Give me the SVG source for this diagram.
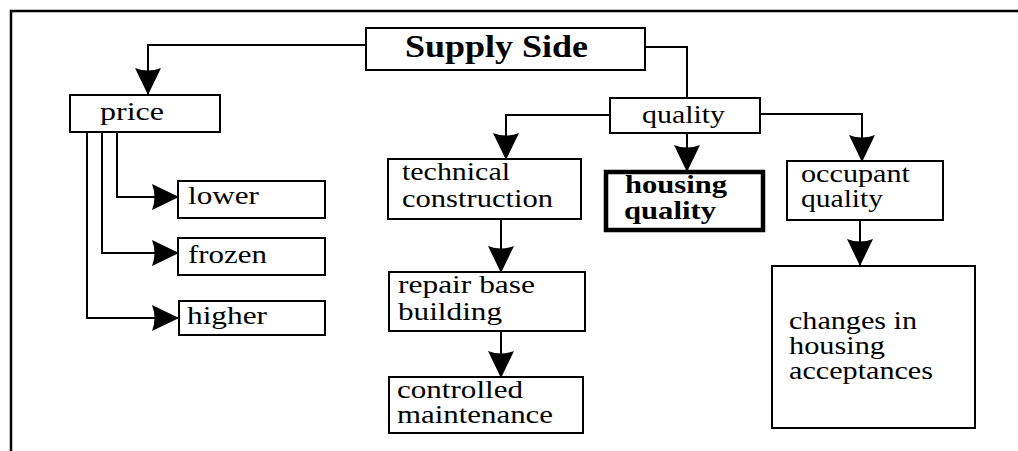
<svg xmlns="http://www.w3.org/2000/svg" width="1018" height="451" viewBox="0 0 1018 451">
  <style>
    .box { fill: #fff; stroke: #000; stroke-width: 2; }
    .thick { stroke-width: 4.5; }
    .lbl { font-family: "Liberation Serif", "Times New Roman", serif; font-size: 25px; fill: #000; }
    .bold { font-weight: bold; }
    .title { font-size: 31px; }
    .wire { fill: none; stroke: #000; stroke-width: 2; }
  </style>
  <defs>
    <marker id="arrow" viewBox="0 0 27 26" refX="26" refY="13" markerUnits="userSpaceOnUse" markerWidth="27" markerHeight="26" orient="auto">
      <path d="M0,0 L27,13 L0,26 Q5,13 0,0 z" fill="#000"/>
    </marker>
  </defs>

  <rect width="1018" height="451" fill="#fff"/>

  <!-- frame: left and top edges only -->
  <path d="M11,451 V11 H1018" fill="none" stroke="#000" stroke-width="2.5"/>

  <g id="connectors">
    <path class="wire" d="M366,45 H148 V94" marker-end="url(#arrow)"/>
    <path class="wire" d="M645,47 H687 V98"/>
    <path class="wire" d="M87,132 V318 H178" marker-end="url(#arrow)"/>
    <path class="wire" d="M102,132 V253 H178" marker-end="url(#arrow)"/>
    <path class="wire" d="M117,132 V197 H178" marker-end="url(#arrow)"/>
    <path class="wire" d="M610,115 H506 V159" marker-end="url(#arrow)"/>
    <path class="wire" d="M687,133 V171" marker-end="url(#arrow)"/>
    <path class="wire" d="M760,114 H862 V161" marker-end="url(#arrow)"/>
    <path class="wire" d="M501,219 V272" marker-end="url(#arrow)"/>
    <path class="wire" d="M501,331 V377" marker-end="url(#arrow)"/>
    <path class="wire" d="M860,220 V265" marker-end="url(#arrow)"/>
  </g>

  <g id="supply-side">
    <rect class="box" x="366" y="28" width="279" height="42"/>
    <text class="lbl bold title" x="405" y="57" textLength="183" lengthAdjust="spacingAndGlyphs">Supply Side</text>
  </g>

  <g id="price">
    <rect class="box" x="70" y="95" width="150" height="37"/>
    <text class="lbl" x="100" y="120" textLength="64" lengthAdjust="spacingAndGlyphs">price</text>
  </g>

  <g id="lower">
    <rect class="box" x="178" y="181" width="147" height="37"/>
    <text class="lbl" x="188" y="204" textLength="71" lengthAdjust="spacingAndGlyphs">lower</text>
  </g>

  <g id="frozen">
    <rect class="box" x="178" y="238" width="147" height="37"/>
    <text class="lbl" x="188" y="263" textLength="79" lengthAdjust="spacingAndGlyphs">frozen</text>
  </g>

  <g id="higher">
    <rect class="box" x="179" y="301" width="146" height="34"/>
    <text class="lbl" x="187" y="324" textLength="80" lengthAdjust="spacingAndGlyphs">higher</text>
  </g>

  <g id="quality">
    <rect class="box" x="610" y="98" width="150" height="35"/>
    <text class="lbl" x="642" y="123" textLength="83" lengthAdjust="spacingAndGlyphs">quality</text>
  </g>

  <g id="technical-construction">
    <rect class="box" x="388" y="159" width="193" height="60"/>
    <text class="lbl" x="402" y="180" textLength="108" lengthAdjust="spacingAndGlyphs">technical</text>
    <text class="lbl" x="402" y="207" textLength="151" lengthAdjust="spacingAndGlyphs">construction</text>
  </g>

  <g id="housing-quality">
    <rect class="box thick" x="606" y="172" width="157" height="58"/>
    <text class="lbl bold" x="625" y="193" textLength="102" lengthAdjust="spacingAndGlyphs">housing</text>
    <text class="lbl bold" x="624" y="219" textLength="92" lengthAdjust="spacingAndGlyphs">quality</text>
  </g>

  <g id="occupant-quality">
    <rect class="box" x="787" y="161" width="156" height="59"/>
    <text class="lbl" x="801" y="182" textLength="109" lengthAdjust="spacingAndGlyphs">occupant</text>
    <text class="lbl" x="801" y="207" textLength="82" lengthAdjust="spacingAndGlyphs">quality</text>
  </g>

  <g id="repair-base-building">
    <rect class="box" x="389" y="272" width="196" height="59"/>
    <text class="lbl" x="398" y="293" textLength="137" lengthAdjust="spacingAndGlyphs">repair base</text>
    <text class="lbl" x="398" y="320" textLength="104" lengthAdjust="spacingAndGlyphs">building</text>
  </g>

  <g id="controlled-maintenance">
    <rect class="box" x="389" y="377" width="194" height="56"/>
    <text class="lbl" x="397" y="398" textLength="126" lengthAdjust="spacingAndGlyphs">controlled</text>
    <text class="lbl" x="397" y="423" textLength="156" lengthAdjust="spacingAndGlyphs">maintenance</text>
  </g>

  <g id="housing-acceptances">
    <rect class="box" x="772" y="266" width="203" height="162"/>
    <text class="lbl" x="789" y="329" textLength="128" lengthAdjust="spacingAndGlyphs">changes in</text>
    <text class="lbl" x="789" y="354" textLength="96" lengthAdjust="spacingAndGlyphs">housing</text>
    <text class="lbl" x="789" y="379" textLength="144" lengthAdjust="spacingAndGlyphs">acceptances</text>
  </g>
</svg>
